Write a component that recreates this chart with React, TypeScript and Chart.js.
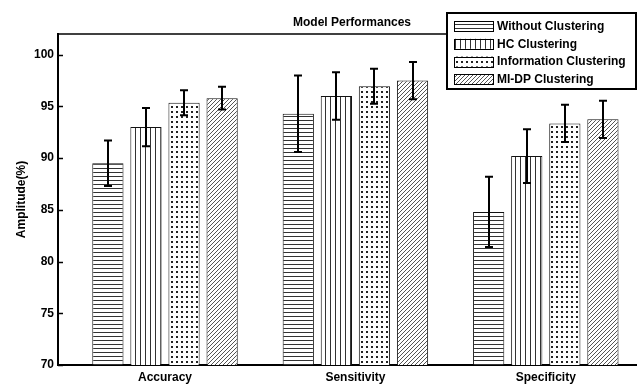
import { useEffect, useRef } from 'react';
import { Chart, registerables } from 'chart.js';

Chart.register(...registerables);

// Group labels along the x axis
const categories = ['Accuracy', 'Sensitivity', 'Specificity'];

// Series names (legend order)
const seriesNames = ['Without Clustering', 'HC Clustering', 'Information Clustering', 'MI-DP Clustering'];

// Mean values (%) per metric
const withoutClustering = [89.5, 94.3, 84.8];
const hcClustering = [93.0, 96.0, 90.2];
const infoClustering = [95.35, 96.95, 93.35];
const midpClustering = [95.8, 97.5, 93.75];

// Half-length of the error bars (%)
const withoutErr = [2.2, 3.7, 3.4];
const hcErr = [1.85, 2.3, 2.6];
const infoErr = [1.2, 1.7, 1.8];
const midpErr = [1.1, 1.8, 1.8];

// Y axis ticks
const yTicks = [70, 75, 80, 85, 90, 95, 100];

const FONT = 'Liberation Sans, Arial, Helvetica, sans-serif';

function makePattern(w: number, h: number, draw: (g: CanvasRenderingContext2D) => void): CanvasPattern {
  const c = document.createElement('canvas');
  c.width = w;
  c.height = h;
  const g = c.getContext('2d')!;
  g.fillStyle = '#ffffff';
  g.fillRect(0, 0, w, h);
  draw(g);
  return g.createPattern(c, 'repeat')!;
}

function buildPatterns(): CanvasPattern[] {
  const horizontal = makePattern(4, 4, (g) => {
    g.fillStyle = '#333333';
    g.fillRect(0, 0, 4, 1);
  });
  const vertical = makePattern(5, 4, (g) => {
    g.fillStyle = '#333333';
    g.fillRect(0, 0, 1, 4);
  });
  const dots = makePattern(5, 5, (g) => {
    g.fillStyle = '#222222';
    g.fillRect(1, 1, 2, 2);
  });
  const diagonal = makePattern(4, 4, (g) => {
    g.fillStyle = '#555555';
    g.fillRect(3, 0, 1, 1);
    g.fillRect(2, 1, 1, 1);
    g.fillRect(1, 2, 1, 1);
    g.fillRect(0, 3, 1, 1);
  });
  return [horizontal, vertical, dots, diagonal];
}

// Error bars drawn on top of each bar, from the y scale
const errorBarPlugin = {
  id: 'errorBars',
  afterDatasetsDraw(chart: any) {
    const { ctx } = chart;
    const yScale = chart.scales.y;
    ctx.save();
    ctx.strokeStyle = '#000';
    ctx.lineWidth = 2;
    chart.data.datasets.forEach((ds: any, i: number) => {
      const meta = chart.getDatasetMeta(i);
      meta.data.forEach((bar: any, j: number) => {
        const v = ds.data[j].y;
        const e = ds.errors[j];
        const yTop = yScale.getPixelForValue(v + e);
        const yBot = yScale.getPixelForValue(v - e);
        const x = Math.round(bar.x);
        ctx.beginPath();
        ctx.moveTo(x, yTop);
        ctx.lineTo(x, yBot);
        ctx.moveTo(x - 4, yTop);
        ctx.lineTo(x + 4, yTop);
        ctx.moveTo(x - 4, yBot);
        ctx.lineTo(x + 4, yBot);
        ctx.stroke();
      });
    });
    ctx.restore();
  },
};

// Frame details, title and the boxed legend
const decorPlugin = {
  id: 'decor',
  afterDraw(chart: any) {
    const { ctx, chartArea } = chart;
    const yScale = chart.scales.y;
    const legendLeft = 447;
    const legendTop = 13;
    const legendRight = 636;
    const legendBottom = 89;

    ctx.save();
    // inward tick marks on the y axis
    ctx.strokeStyle = '#000';
    ctx.lineWidth = 1.5;
    yTicks.forEach((t) => {
      const y = Math.round(yScale.getPixelForValue(t)) + 0.5;
      ctx.beginPath();
      ctx.moveTo(chartArea.left, y);
      ctx.lineTo(chartArea.left + 5, y);
      ctx.stroke();
    });

    // top frame line up to the legend
    ctx.beginPath();
    ctx.moveTo(chartArea.left, chartArea.top);
    ctx.lineTo(legendLeft, chartArea.top);
    ctx.stroke();

    // title
    ctx.fillStyle = '#000';
    ctx.font = `bold 12px ${FONT}`;
    ctx.textAlign = 'center';
    ctx.textBaseline = 'alphabetic';
    ctx.fillText('Model Performances', 352, 26);

    // legend
    ctx.fillStyle = '#fff';
    ctx.fillRect(legendLeft, legendTop, legendRight - legendLeft, legendBottom - legendTop);
    ctx.lineWidth = 2;
    ctx.strokeStyle = '#000';
    ctx.strokeRect(legendLeft, legendTop, legendRight - legendLeft, legendBottom - legendTop);

    chart.data.datasets.forEach((ds: any, i: number) => {
      const top = 21 + i * 17.8;
      const sx = 454;
      const sw = 39;
      const sh = 10;
      ctx.fillStyle = ds.backgroundColor;
      ctx.fillRect(sx, top, sw, sh);
      ctx.lineWidth = 1;
      ctx.strokeStyle = '#000';
      ctx.strokeRect(sx + 0.5, Math.round(top) + 0.5, sw, sh);
      ctx.fillStyle = '#000';
      ctx.font = `bold 12px ${FONT}`;
      ctx.textAlign = 'left';
      ctx.textBaseline = 'middle';
      ctx.fillText(ds.label, 497, top + sh / 2 + 0.5);
    });
    ctx.restore();
  },
};

export default function App() {
  const canvasRef = useRef<HTMLCanvasElement | null>(null);

  useEffect(() => {
    const canvas = canvasRef.current;
    if (!canvas) return;
    const patterns = buildPatterns();
    const values = [withoutClustering, hcClustering, infoClustering, midpClustering];
    const errors = [withoutErr, hcErr, infoErr, midpErr];

    const datasets = values.map((vals, i) => ({
      label: seriesNames[i],
      data: vals.map((v, j) => ({ x: j + 1, y: v })),
      errors: errors[i],
      backgroundColor: patterns[i],
      borderColor: '#111',
      borderWidth: 1,
      categoryPercentage: 0.8,
      barPercentage: 0.82,
    }));

    const chart = new Chart(canvas, {
      type: 'bar',
      data: { datasets: datasets as any },
      options: {
        animation: false,
        responsive: false,
        devicePixelRatio: 1,
        layout: { padding: { top: 34, left: 0, right: 0, bottom: 0 } },
        plugins: {
          legend: { display: false },
          title: { display: false },
          tooltip: { enabled: false },
        },
        scales: {
          x: {
            type: 'linear',
            min: 0.438,
            max: 3.479,
            offset: false,
            grid: { display: false, drawTicks: false },
            border: { display: true, width: 2, color: '#000' },
            afterBuildTicks: (s: any) => {
              s.ticks = categories.map((_, i) => ({ value: i + 1 }));
            },
            afterFit: (s: any) => {
              s.height = 19;
            },
            ticks: {
              autoSkip: false,
              maxRotation: 0,
              padding: 5,
              color: '#000',
              font: { family: FONT, size: 12, weight: 'bold' },
              callback: (v: any) => categories[Math.round(Number(v)) - 1] ?? '',
            },
          },
          y: {
            type: 'linear',
            min: 70,
            max: 102,
            grid: { display: false, drawTicks: false },
            border: { display: true, width: 2, color: '#000' },
            afterFit: (s: any) => {
              s.width = 58;
            },
            ticks: {
              stepSize: 5,
              includeBounds: false,
              padding: 4,
              color: '#000',
              font: { family: FONT, size: 12, weight: 'bold' },
            },
            title: {
              display: true,
              text: 'Amplitude(%)',
              color: '#000',
              font: { family: FONT, size: 12, weight: 'bold' },
              padding: { top: 14, bottom: 0 },
            },
          },
        },
      } as any,
      plugins: [errorBarPlugin, decorPlugin],
    });

    return () => {
      chart.destroy();
    };
  }, []);

  return (
    <div style={{ position: 'absolute', left: 0, top: 0, width: 637, height: 384, background: '#fff' }}>
      <canvas ref={canvasRef} width={637} height={384} style={{ display: 'block' }} />
    </div>
  );
}
